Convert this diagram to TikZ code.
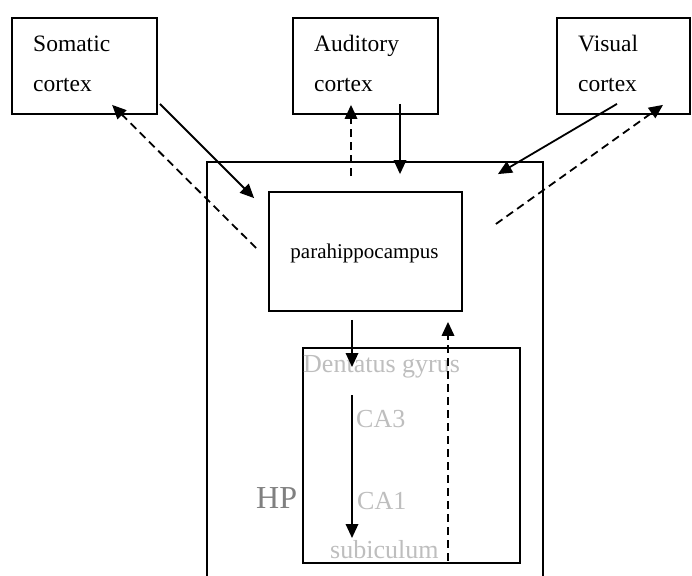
\documentclass[tikz,border=0pt]{standalone}
\usepackage{fontspec}
\setmainfont{Liberation Serif}
\usetikzlibrary{arrows.meta,calc}
\definecolor{lightgr}{RGB}{190,190,190}
\definecolor{hpgr}{RGB}{128,128,128}
\begin{document}
\begin{tikzpicture}[x=1pt,y=-1pt,
  boxstyle/.style={draw,line width=1.8pt,rectangle,inner sep=0pt},
  lbl/.style={anchor=base west,inner sep=0pt,font=\fontsize{23.5}{28}\selectfont},
  grlbl/.style={anchor=base west,inner sep=0pt,text=lightgr,font=\fontsize{26}{30}\selectfont},
  solidarrow/.style={line width=1.8pt,-{Triangle[length=14pt,width=12.5pt]}},
  dasharrow/.style={line width=1.8pt,dash pattern=on 8pt off 5pt,-{Triangle[length=14pt,width=12.5pt]}}]
\clip (0,0) rectangle (692,575);
\fill[white] (0,0) rectangle (692,575);
% boxes
\node[boxstyle,minimum width=145pt,minimum height=96pt] (som) at (84.5,66) {};
\node[boxstyle,minimum width=145pt,minimum height=96pt] (aud) at (365.5,66) {};
\node[boxstyle,minimum width=133pt,minimum height=96pt] (vis) at (623.5,66) {};
\node[boxstyle,minimum width=336pt,minimum height=430pt] (outer) at (375,377) {};
\node[boxstyle,minimum width=193pt,minimum height=119pt] (para) at (365.5,251.5) {};
\node[boxstyle,minimum width=217pt,minimum height=215pt] (hp) at (411.5,455.5) {};
% texts
\node[lbl] (t1) at (33,52) {Somatic};
\node[lbl] (t2) at (33,92) {cortex};
\node[lbl] (t3) at (314,52) {Auditory};
\node[lbl] (t4) at (314,92) {cortex};
\node[lbl] (t5) at (578,52) {Visual};
\node[lbl] (t6) at (578,92) {cortex};
\node[anchor=base,inner sep=0pt,font=\fontsize{21}{25}\selectfont] (pt) at (364.5,258) {parahippocampus};
\node[grlbl] (dg) at (303,372) {Dentatus gyrus};
\node[grlbl] (ca3) at (356,427) {CA3};
\node[grlbl] (ca1) at (357,509) {CA1};
\node[grlbl] (sub) at (330,558) {subiculum};
\node[anchor=base west,inner sep=0pt,text=hpgr,font=\fontsize{32}{36}\selectfont] (hpl) at (256,508) {HP};
% connector endpoints
\coordinate (a1s) at ($(som.south east)+(2,-11)$);
\coordinate (a1e) at ($(para.north west)+(-14,7)$);
\coordinate (a2s) at ($(para.west)+(-12,-3.5)$);
\coordinate (a2e) at ($(som.south west)+(101,-10)$);
\coordinate (a3s) at ($(outer.north)+(-24,15)$);
\coordinate (a3e) at ($(aud.south)+(-14.5,-10)$);
\coordinate (a4s) at ($(aud.south)+(34.5,-11)$);
\coordinate (a4e) at ($(outer.north)+(25,13)$);
\coordinate (a5s) at ($(vis.south)+(-6.5,-11)$);
\coordinate (a5e) at ($(outer.north east)+(-46,13)$);
\coordinate (a6s) at ($(para.east)+(33,-27.5)$);
\coordinate (a6e) at ($(vis.south)+(39.5,-10)$);
\coordinate (a7s) at ($(para.south)+(-13.5,8)$);
\coordinate (a7e) at ($(dg.base west)+(49,-5)$);
\coordinate (a8s) at ($(ca3.base west)+(-4,-32)$);
\coordinate (a8e) at ($(sub.base west)+(22,-20)$);
\coordinate (a9s) at ($(hp.south)+(36.5,-3)$);
\coordinate (a9e) at ($(para.south)+(82.5,10)$);
% connectors
\draw[solidarrow] (a1s) -- (a1e);
\draw[dasharrow] (a2s) -- (a2e);
\draw[dasharrow] (a3s) -- (a3e);
\draw[solidarrow] (a4s) -- (a4e);
\draw[solidarrow] (a5s) -- (a5e);
\draw[dasharrow] (a6s) -- (a6e);
\draw[solidarrow] (a7s) -- (a7e);
\draw[solidarrow] (a8s) -- (a8e);
\draw[dasharrow] (a9s) -- (a9e);
\end{tikzpicture}
\end{document}
